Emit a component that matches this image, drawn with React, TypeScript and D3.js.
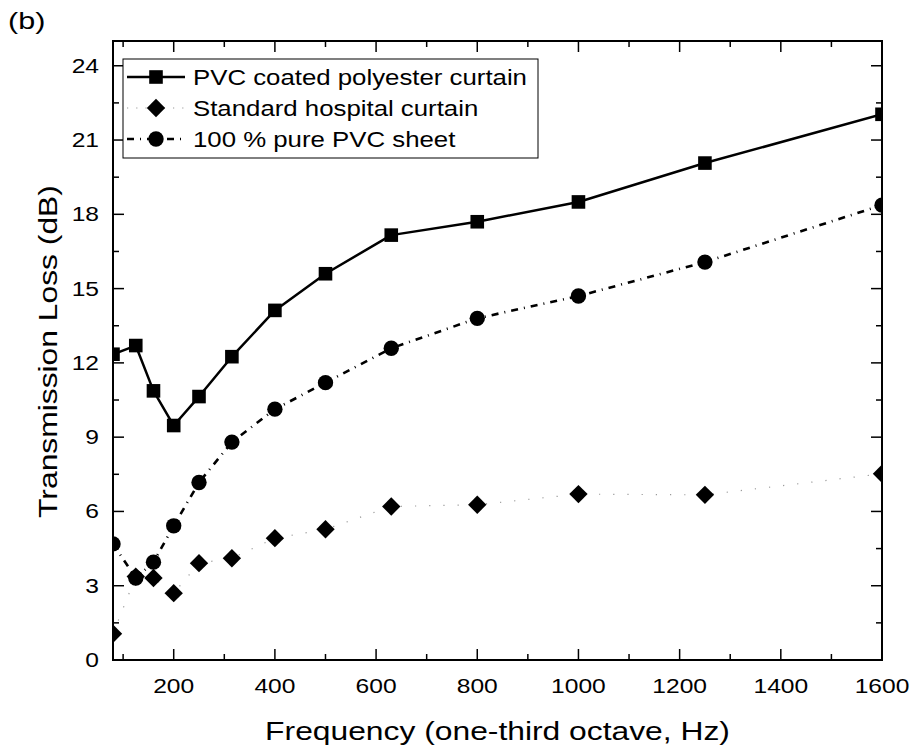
import type { ReactNode } from "react";
import { line, scaleLinear, symbol, symbolCircle, symbolDiamond2, symbolSquare } from "d3";

const frequencies = [80, 125, 160, 200, 250, 315, 400, 500, 630, 800, 1000, 1250, 1600];
const pvcCoatedCurtain = [12.35, 12.7, 10.87, 9.47, 10.64, 12.25, 14.12, 15.6, 17.16, 17.7, 18.5, 20.07, 22.04];
const standardCurtain = [1.06, 3.37, 3.31, 2.7, 3.91, 4.11, 4.92, 5.28, 6.2, 6.27, 6.7, 6.67, 7.52];
const pureSheet = [4.69, 3.31, 3.95, 5.42, 7.17, 8.8, 10.13, 11.2, 12.59, 13.8, 14.7, 16.07, 18.37];

const xMajorTicks = [200, 400, 600, 800, 1000, 1200, 1400, 1600];
const xMinorTicks = [100, 300, 500, 700, 900, 1100, 1300, 1500];
const yMajorTicks = [0, 3, 6, 9, 12, 15, 18, 21, 24];
const yMinorTicks = [1.5, 4.5, 7.5, 10.5, 13.5, 16.5, 19.5, 22.5];

const WIDTH = 915;
const HEIGHT = 755;
const PLOT_LEFT = 113;
const PLOT_RIGHT = 882;
const PLOT_TOP = 41;
const PLOT_BOTTOM = 660;
const MAJOR_TICK = 11;
const MINOR_TICK = 6;
const STRETCH = 1.2;
const FONT = "'Liberation Sans', Arial, sans-serif";

type SeriesDef = {
  name: string;
  values: number[];
  marker: "square" | "diamond" | "circle";
  stroke: string;
  strokeWidth: number;
  dash?: string;
  legendDash?: string;
};

const seriesDefs: SeriesDef[] = [
  { name: "PVC coated polyester curtain", values: pvcCoatedCurtain, marker: "square", stroke: "#000", strokeWidth: 2.5 },
  {
    name: "Standard hospital curtain",
    values: standardCurtain,
    marker: "diamond",
    stroke: "#9a9a9a",
    strokeWidth: 1.2,
    dash: "1.2,13",
    legendDash: "1.2,8"
  },
  {
    name: "100 % pure PVC sheet",
    values: pureSheet,
    marker: "circle",
    stroke: "#000",
    strokeWidth: 2.6,
    dash: "7,6,1,6",
    legendDash: "7,6,1,6"
  }
];

const markerPath = {
  square: symbol(symbolSquare, 185)(),
  diamond: symbol(symbolDiamond2, 215)(),
  circle: symbol(symbolCircle, 185)()
};

// text in the reference is wider than Arial at the same height, so stretch it horizontally
function StretchedText({
  x,
  y,
  size,
  anchor = "start",
  rotate = 0,
  stretch = STRETCH,
  children
}: {
  x: number;
  y: number;
  size: number;
  anchor?: "start" | "middle" | "end";
  rotate?: number;
  stretch?: number;
  children: ReactNode;
}) {
  return (
    <g transform={`translate(${x},${y}) rotate(${rotate}) scale(${stretch},1)`}>
      <text x={0} y={0} fontSize={size} textAnchor={anchor}>
        {children}
      </text>
    </g>
  );
}

export default function App() {
  const x = scaleLinear().domain([80, 1600]).range([PLOT_LEFT, PLOT_RIGHT]);
  const y = scaleLinear().domain([0, 25]).range([PLOT_BOTTOM, PLOT_TOP]);

  const pathFor = (values: number[]) =>
    line<number>()
      .x((_v, i) => x(frequencies[i]))
      .y((v) => y(v))(values) ?? "";

  const legendLeft = 123;
  const legendTop = 59;
  const legendRowHeight = 31;

  return (
    <svg
      width={WIDTH}
      height={HEIGHT}
      viewBox={`0 0 ${WIDTH} ${HEIGHT}`}
      style={{ position: "absolute", left: 0, top: 0, background: "#fff" }}
      fontFamily={FONT}
    >
      <defs>
        <clipPath id="plot-clip">
          <rect x={PLOT_LEFT} y={PLOT_TOP} width={PLOT_RIGHT - PLOT_LEFT} height={PLOT_BOTTOM - PLOT_TOP} />
        </clipPath>
      </defs>

      <StretchedText x={8} y={29} size={23.5} stretch={1.3}>
        (b)
      </StretchedText>

      {/* series */}
      <g clipPath="url(#plot-clip)">
        {seriesDefs.map((s) => (
          <path
            key={s.name}
            d={pathFor(s.values)}
            fill="none"
            stroke={s.stroke}
            strokeWidth={s.strokeWidth}
            strokeDasharray={s.dash}
            strokeLinejoin="round"
          />
        ))}
        {seriesDefs.map((s) =>
          s.values.map((v, i) => (
            <path
              key={`${s.name}-${i}`}
              d={markerPath[s.marker]}
              transform={`translate(${x(frequencies[i])},${y(v)})`}
              fill="#000"
            />
          ))
        )}
      </g>

      {/* ticks */}
      <g stroke="#000" strokeWidth={1.5}>
        {xMajorTicks.map((t) => (
          <g key={`xM${t}`}>
            <line x1={x(t)} x2={x(t)} y1={PLOT_BOTTOM} y2={PLOT_BOTTOM - MAJOR_TICK} />
            <line x1={x(t)} x2={x(t)} y1={PLOT_TOP} y2={PLOT_TOP + MAJOR_TICK} />
          </g>
        ))}
        {xMinorTicks.map((t) => (
          <g key={`xm${t}`}>
            <line x1={x(t)} x2={x(t)} y1={PLOT_BOTTOM} y2={PLOT_BOTTOM - MINOR_TICK} />
            <line x1={x(t)} x2={x(t)} y1={PLOT_TOP} y2={PLOT_TOP + MINOR_TICK} />
          </g>
        ))}
        {yMajorTicks.map((t) => (
          <g key={`yM${t}`}>
            <line x1={PLOT_LEFT} x2={PLOT_LEFT + MAJOR_TICK} y1={y(t)} y2={y(t)} />
            <line x1={PLOT_RIGHT} x2={PLOT_RIGHT - MAJOR_TICK} y1={y(t)} y2={y(t)} />
          </g>
        ))}
        {yMinorTicks.map((t) => (
          <g key={`ym${t}`}>
            <line x1={PLOT_LEFT} x2={PLOT_LEFT + MINOR_TICK} y1={y(t)} y2={y(t)} />
            <line x1={PLOT_RIGHT} x2={PLOT_RIGHT - MINOR_TICK} y1={y(t)} y2={y(t)} />
          </g>
        ))}
      </g>

      <rect
        x={PLOT_LEFT}
        y={PLOT_TOP}
        width={PLOT_RIGHT - PLOT_LEFT}
        height={PLOT_BOTTOM - PLOT_TOP}
        fill="none"
        stroke="#000"
        strokeWidth={2}
      />

      {/* tick labels */}
      {xMajorTicks.map((t) => (
        <StretchedText key={`xl${t}`} x={x(t)} y={PLOT_BOTTOM + 33} size={20.5} anchor="middle">
          {t}
        </StretchedText>
      ))}
      {yMajorTicks.map((t) => (
        <StretchedText key={`yl${t}`} x={PLOT_LEFT - 14} y={y(t) + 7} size={20.5} anchor="end">
          {t}
        </StretchedText>
      ))}

      {/* axis titles */}
      <StretchedText x={(PLOT_LEFT + PLOT_RIGHT) / 2} y={740} size={26.5} anchor="middle">
        Frequency (one-third octave, Hz)
      </StretchedText>
      <StretchedText x={57} y={(PLOT_TOP + PLOT_BOTTOM) / 2 + 1} size={26.5} anchor="middle" rotate={-90}>
        Transmission Loss (dB)
      </StretchedText>

      {/* legend */}
      <rect x={legendLeft} y={legendTop} width={415} height={99} fill="#fff" stroke="#000" strokeWidth={1} />
      {seriesDefs.map((s, i) => {
        const cy = legendTop + 18 + i * legendRowHeight;
        return (
          <g key={`lg${s.name}`}>
            <line
              x1={legendLeft + 4}
              x2={legendLeft + 62}
              y1={cy}
              y2={cy}
              stroke={s.stroke}
              strokeWidth={s.strokeWidth}
              strokeDasharray={s.legendDash}
            />
            <path d={markerPath[s.marker]} transform={`translate(${legendLeft + 33},${cy})`} fill="#000" />
            <StretchedText x={legendLeft + 70} y={cy + 7.5} size={21.5}>
              {s.name}
            </StretchedText>
          </g>
        );
      })}
    </svg>
  );
}
